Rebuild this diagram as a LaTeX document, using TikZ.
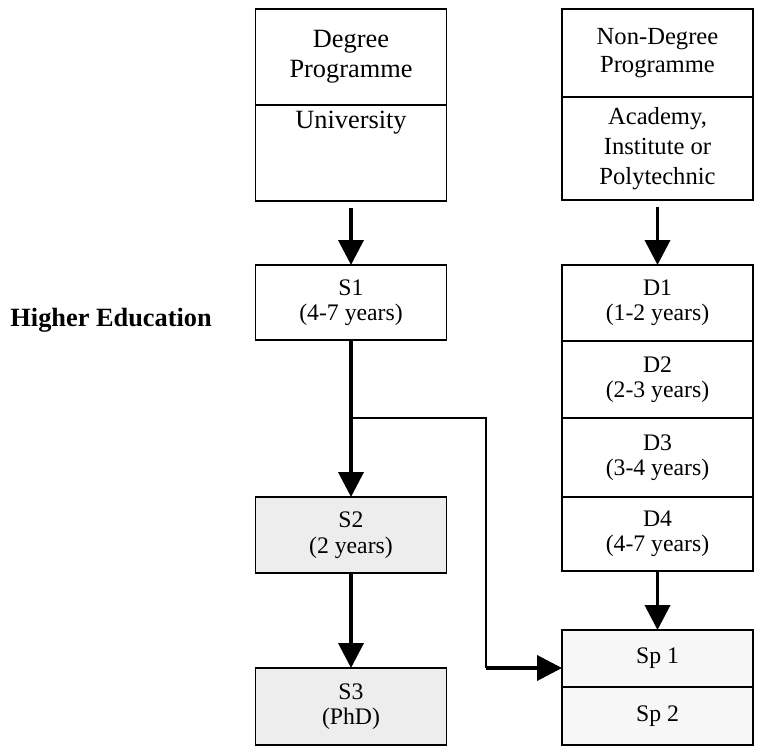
\documentclass[tikz,border=0pt]{standalone}
\usepackage{fontspec}
\setmainfont{Liberation Serif}
\usetikzlibrary{positioning,arrows.meta}
\tikzset{
    table-cell/.style = {draw, line width=0.8pt, rectangle, minimum width=3.82cm, inner sep=2pt, outer sep=0pt, align=center, font=\fontsize{13.5}{14.5}\selectfont},
    grey-cell/.style = {table-cell, fill=gray!14},
    pale-cell/.style = {table-cell, fill=gray!6},
    head-font/.style = {font=\fontsize{15}{17}\selectfont},
    side-font/.style = {font=\fontsize{14}{16}\selectfont},
    level-label/.style = {font=\fontsize{15}{17}\selectfont\bfseries},
    flow-arrow/.style = {line width=2.2pt, -{Triangle[length=0.5cm, width=0.5cm]}},
    branch-line/.style = {line width=0.8pt},
}

\begin{document}
\begin{tikzpicture}[x=0.02cm, y=-0.02cm]
\useasboundingbox (0,0) rectangle (757,746);

\node[table-cell, head-font, minimum height=1.92cm, anchor=north] (degree) at (351,9) {Degree\\Programme};
\node[table-cell, head-font, minimum height=1.92cm, inner ysep=0pt, text height=0.48cm, text depth=1.44cm, below=0pt of degree] (university) {University};

\node[table-cell, side-font, minimum height=1.76cm, anchor=north] (nondegree) at (657.5,9) {Non-Degree\\Programme};
\node[table-cell, side-font, font=\fontsize{14}{17}\selectfont, minimum height=2.06cm, below=0pt of nondegree] (academy) {Academy,\\Institute or\\Polytechnic};

\node[level-label, anchor=base east] (level) at (218,327) {Higher Education};

\node[table-cell, minimum height=1.5cm, anchor=north] (s1) at (351,265) {S1\\(4-7 years)};
\node[grey-cell, minimum height=1.52cm, anchor=north] (s2) at (351,497) {S2\\(2 years)};
\node[grey-cell, minimum height=1.54cm, anchor=north] (s3) at (351,668) {S3\\(PhD)};

\node[table-cell, minimum height=1.52cm, anchor=north] (d1) at (657.5,265) {D1\\(1-2 years)};
\node[table-cell, minimum height=1.54cm, below=0pt of d1] (d2) {D2\\(2-3 years)};
\node[table-cell, minimum height=1.58cm, below=0pt of d2] (d3) {D3\\(3-4 years)};
\node[table-cell, minimum height=1.48cm, below=0pt of d3] (d4) {D4\\(4-7 years)};

\node[pale-cell, minimum height=1.14cm, anchor=north] (sp1) at (657.5,630) {Sp 1};
\node[pale-cell, minimum height=1.16cm, below=0pt of sp1] (sp2) {Sp 2};

\draw[flow-arrow, shorten <=0.14cm] (university.south) -- (s1.north);
\draw[flow-arrow, shorten <=0.14cm] (academy.south) -- (d1.north);
\draw[flow-arrow] (s1.south) -- (s2.north);
\draw[flow-arrow] (s2.south) -- (s3.north);
\draw[flow-arrow] (d4.south) -- (sp1.north);

\coordinate (fork) at (351,418);
\coordinate (bend) at (486,668);
\draw[branch-line] (fork) -| (bend);
\draw[flow-arrow] (bend) -- (bend -| sp1.west);
\end{tikzpicture}
\end{document}
